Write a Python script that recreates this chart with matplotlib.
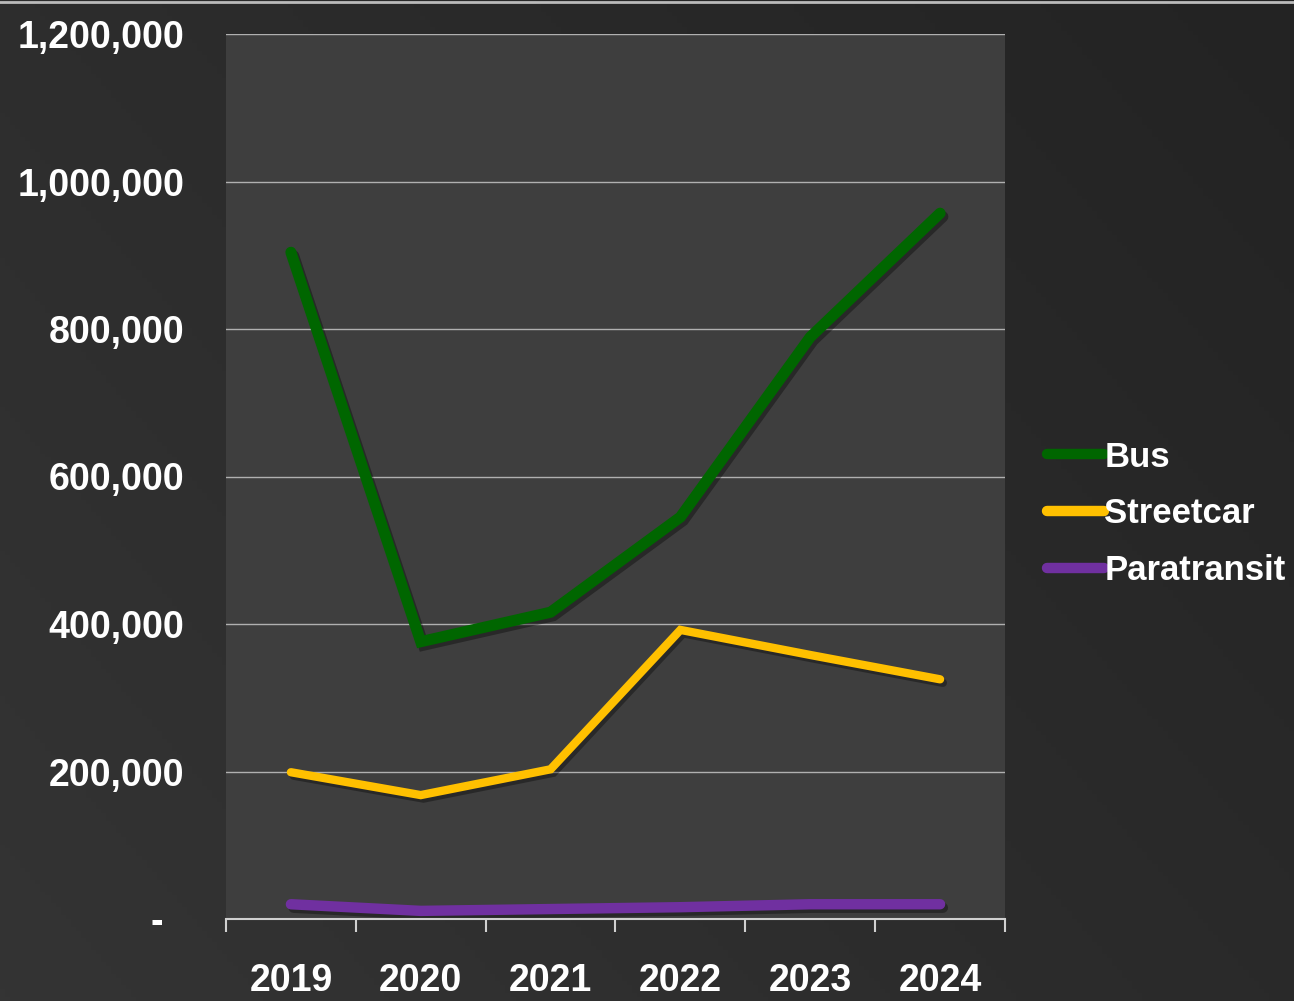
import matplotlib.pyplot as plt
import matplotlib.patheffects as pe
from matplotlib.ticker import FuncFormatter
import numpy as np

years = ['2019', '2020', '2021', '2022', '2023', '2024']
bus = [904000, 376000, 416000, 545000, 789000, 957000]
streetcar = [199000, 168000, 203000, 392000, 358000, 325000]
paratransit = [20000, 11000, 13500, 16000, 20000, 20000]

series = [('Bus', bus, '#006600'), ('Streetcar', streetcar, '#ffc000'),
          ('Paratransit', paratransit, '#7030a0')]

fig = plt.figure(figsize=(12.94, 10.01), dpi=100)

# background gradient
bg = fig.add_axes([0, 0, 1, 1], zorder=-10)
gx = np.linspace(0, 1, 256)
gy = np.linspace(0, 1, 256)
gxx, gyy = np.meshgrid(gx, gy)
grad = 0.6 * gxx + 0.4 * (1 - gyy)
bg.imshow(grad, cmap=plt.matplotlib.colors.LinearSegmentedColormap.from_list('g', ['#343434', '#232323']),
          aspect='auto', extent=[0, 1, 0, 1])
bg.axhline(0.998, color='#bbbbbb', lw=2)
bg.axis('off')

ax = fig.add_axes([226 / 1294, 82 / 1001, 779 / 1294, 885 / 1001])
ax.set_facecolor('#3e3e3e')

x = np.arange(len(years))
shadow = [pe.SimpleLineShadow(offset=(2, -2.5), alpha=0.35, shadow_color='black'), pe.Normal()]
widths = {'Bus': 8, 'Streetcar': 6, 'Paratransit': 7.5}
for name, vals, col in series:
    ax.plot(x, vals, color=col, lw=widths[name], solid_capstyle='round',
            solid_joinstyle='miter', label=name, path_effects=shadow)

ax.set_xlim(-0.5, 5.5)
ax.set_ylim(0, 1200000)
ax.set_yticks(np.arange(0, 1200001, 200000))
ax.yaxis.set_major_formatter(FuncFormatter(lambda v, p: '-  ' if v == 0 else f'{int(v):,}'))
ax.grid(axis='y', color='#b0b0b0', lw=1)
ax.set_axisbelow(True)

ax.set_xticks(x)
ax.set_xticklabels(years)
ax.set_xticks(np.arange(-0.5, 6, 1), minor=True)
ax.tick_params(axis='x', which='major', length=0, pad=32)
ax.tick_params(axis='x', which='minor', length=9, width=1.5, color='#d0d0d0', direction='out')
ax.tick_params(axis='y', length=0, pad=30)

for lbl in ax.get_yticklabels():
    lbl.set_fontfamily(['Liberation Sans', 'DejaVu Sans'])
    lbl.set_fontweight('bold')
    lbl.set_fontsize(27)
    lbl.set_color('white')
for lbl in ax.get_xticklabels():
    lbl.set_fontfamily(['Liberation Sans Narrow', 'Liberation Sans', 'DejaVu Sans'])
    lbl.set_fontweight('bold')
    lbl.set_fontsize(27)
    lbl.set_color('white')

for s in ['top', 'right', 'left']:
    ax.spines[s].set_visible(False)
ax.spines['bottom'].set_color('#d0d0d0')
ax.spines['bottom'].set_linewidth(1.5)

leg = ax.legend(loc='center left', bbox_to_anchor=(1.014, 0.458), frameon=False,
                handlelength=1.65, handletextpad=0.0, labelspacing=0.68,
                prop={'family': ['Liberation Sans', 'DejaVu Sans'], 'weight': 'bold', 'size': 25})
for t in leg.get_texts():
    t.set_color('white')
for h in leg.legend_handles:
    h.set_linewidth(7.5)
    h.set_path_effects([])

fig.savefig('out.png', dpi=100)
